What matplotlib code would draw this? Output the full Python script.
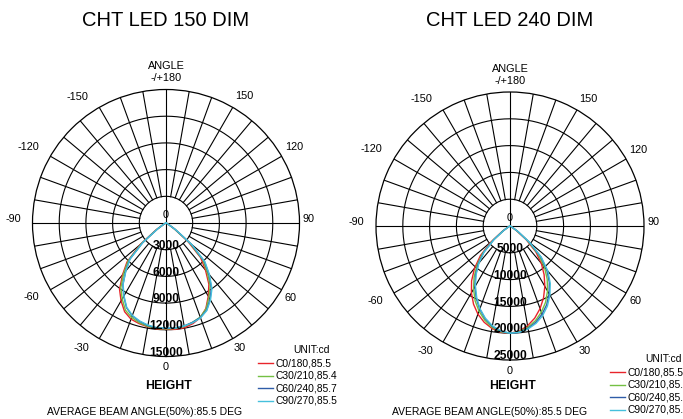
import numpy as np
import matplotlib.pyplot as plt
from matplotlib.lines import Line2D

plt.rcParams['font.family'] = ['Liberation Sans', 'DejaVu Sans']

W, H = 683, 419

# angles (deg) for one half of each curve, 0 = straight down
half_angles = np.arange(0, 91, 5)

# ---- CHT LED 150 DIM (cd), "left" = negative angle side, "right" = positive
l_red_left = [11950, 11950, 11850, 11700, 11500, 11000, 10100, 9100, 7600, 6200, 3800, 1400, 400, 150, 60, 20, 10, 0, 0]
l_red_right = [11950, 12000, 11950, 11700, 11300, 10600, 9500, 8400, 6900, 5500, 3200, 1100, 300, 100, 40, 20, 10, 0, 0]
l_green_left = [11900, 11900, 11800, 11600, 11300, 10800, 9850, 8850, 7400, 6000, 3600, 1250, 320, 110, 50, 20, 10, 0, 0]
l_green_right = [11900, 11900, 11800, 11550, 11250, 10650, 9650, 8650, 7200, 5850, 3450, 1150, 300, 100, 50, 20, 10, 0, 0]
l_blue_left = [11850, 11850, 11700, 11450, 11100, 10500, 9500, 8450, 7050, 5750, 3400, 1150, 300, 100, 50, 20, 10, 0, 0]
l_blue_right = [11850, 11850, 11750, 11550, 11300, 10800, 9900, 8900, 7500, 6100, 3700, 1300, 330, 110, 50, 20, 10, 0, 0]
l_cyan_left = [11800, 11800, 11650, 11400, 11050, 10450, 9450, 8400, 7000, 5700, 3350, 1100, 300, 100, 50, 20, 10, 0, 0]
l_cyan_right = [11800, 11850, 11750, 11600, 11350, 10850, 10000, 9000, 7600, 6200, 3800, 1350, 350, 120, 50, 20, 10, 0, 0]

# ---- CHT LED 240 DIM (cd)
r_red_left = [20000, 19900, 19400, 18600, 17500, 16100, 14400, 12500, 10300, 7800, 4600, 1800, 450, 150, 60, 30, 10, 0, 0]
r_red_right = [20000, 19700, 18900, 17800, 16400, 14800, 13000, 11100, 9100, 6800, 3900, 1400, 350, 120, 50, 20, 10, 0, 0]
r_green_left = [20000, 19800, 19200, 18200, 16900, 15400, 13600, 11700, 9600, 7200, 4100, 1500, 380, 130, 50, 20, 10, 0, 0]
r_green_right = [20000, 19800, 19200, 18300, 17100, 15700, 14000, 12100, 10000, 7500, 4300, 1600, 400, 150, 60, 30, 10, 0, 0]
r_blue_left = [20000, 19700, 19000, 17900, 16500, 14900, 13100, 11200, 9200, 6900, 3900, 1400, 350, 120, 50, 20, 10, 0, 0]
r_blue_right = [20000, 19900, 19400, 18600, 17500, 16200, 14600, 12800, 10700, 8100, 4700, 1800, 450, 160, 60, 30, 10, 0, 0]
r_cyan_left = [20000, 19700, 18900, 17800, 16400, 14700, 12900, 11000, 9000, 6800, 3800, 1350, 340, 120, 50, 20, 10, 0, 0]
r_cyan_right = [20000, 19900, 19500, 18800, 17800, 16500, 14900, 13100, 11000, 8300, 4900, 1900, 480, 170, 60, 30, 10, 0, 0]

titles = ["CHT LED 150 DIM", "CHT LED 240 DIM"]
rings_left = [3000, 6000, 9000, 12000, 15000]
rings_right = [5000, 10000, 15000, 20000, 25000]
legend_labels = ["C0/180,85.5", "C30/210,85.4", "C60/240,85.7", "C90/270,85.5"]
colors = ["#e8242b", "#74c043", "#2f5ca8", "#45c0dc"]
angle_labels = ["0", "-30", "-60", "-90", "-120", "-150", "30", "60", "90", "120", "150"]
# where each angle label sits (display angle in deg, radius factor)
angle_label_pos = [(0, 1.08), (-34, 1.128), (-61, 1.15), (-91.5, 1.146), (-119, 1.18), (-145, 1.153),
                   (30.6, 1.088), (59, 1.092), (91.5, 1.07), (120.7, 1.116), (148.4, 1.116)]


def px(x, y):
    return x / W, 1 - y / H


def draw_chart(cx, cy, R, rings, series, title, legend_xy, beam_x):
    ax = fig.add_axes([(cx - R) / W, 1 - (cy + R) / H, 2 * R / W, 2 * R / H],
                      projection="polar")
    ax.set_theta_zero_location("S")
    ax.set_theta_direction(1)
    rmax = rings[-1]
    ax.set_ylim(0, rmax)
    ax.set_xticks([])
    ax.set_yticks([])
    ax.grid(False)
    ax.spines["polar"].set_linewidth(0.9)

    full = np.linspace(0, 2 * np.pi, 361)
    for r in rings[:-1]:
        ax.plot(full, np.full_like(full, r), color="black", lw=0.8)
    for d in range(0, 360, 10):
        t = np.deg2rad(d)
        r0 = 0 if d % 90 == 0 else rings[0]
        ax.plot([t, t], [r0, rmax], color="black", lw=0.8)

    th = np.deg2rad(np.concatenate([-half_angles[::-1], half_angles[1:]]))
    for (left, right), c in zip(series, colors):
        vals = np.concatenate([np.array(left)[::-1], np.array(right)[1:]])
        ax.plot(th, vals, color=c, lw=1.0)

    for r in rings:
        ax.text(0, r - rmax * 0.028, str(r), ha="center", va="center",
                fontsize=8.7, fontweight="bold")
    ax.text(np.pi, rmax * 0.06, "0", ha="center", va="center", fontsize=7.8)

    for lab, (a, f) in zip(angle_labels, angle_label_pos):
        ax.text(np.deg2rad(a), rmax * f, lab, ha="center", va="center", fontsize=7.8)
    ax.text(np.pi, rmax * 1.175, "ANGLE", ha="center", va="center", fontsize=7.8)
    ax.text(np.pi, rmax * 1.085, "-/+180", ha="center", va="center", fontsize=7.8)

    fig.text(*px(cx + 3, 386), "HEIGHT", ha="center", va="center",
             fontsize=8.8, fontweight="bold")
    fig.text(*px(beam_x, 412), "AVERAGE BEAM ANGLE(50%):85.5 DEG",
             ha="center", va="center", fontsize=7.5)
    fig.text(*px(cx, 20), title, ha="center", va="center", fontsize=14.5)

    lx, ly = legend_xy
    fig.text(*px(lx + 53, ly - 13), "UNIT:cd", ha="center", va="center", fontsize=7.4)
    for i, (lab, c) in enumerate(zip(legend_labels, colors)):
        y = ly + i * 12.6
        fig.add_artist(Line2D([lx / W, (lx + 15) / W], [1 - y / H, 1 - y / H],
                              color=c, lw=1.0))
        fig.text(*px(lx + 17, y), lab, ha="left", va="center", fontsize=7.4)
    return ax


fig = plt.figure(figsize=(W / 100, H / 100), dpi=100)

left_series = [(l_red_left, l_red_right), (l_green_left, l_green_right),
               (l_blue_left, l_blue_right), (l_cyan_left, l_cyan_right)]
right_series = [(r_red_left, r_red_right), (r_green_left, r_green_right),
                (r_blue_left, r_blue_right), (r_cyan_left, r_cyan_right)]

draw_chart(166, 223, 133.5, rings_left, left_series, titles[0], (258, 363), 145)
draw_chart(510, 226, 134, rings_right, right_series, titles[1], (610, 372), 490)

fig.savefig("out.png", dpi=100)
